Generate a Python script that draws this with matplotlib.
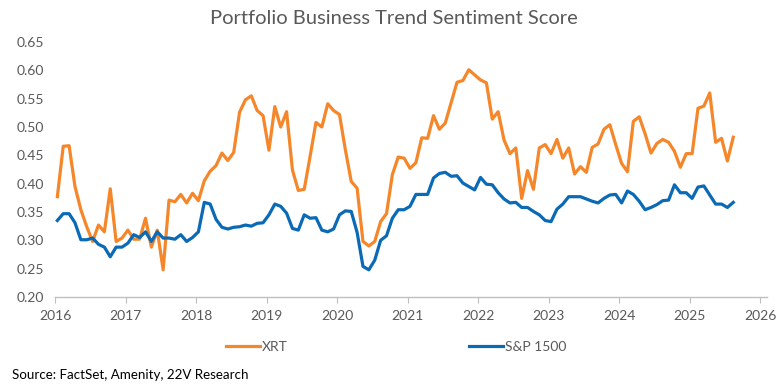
#!/usr/bin/env python3
"""
Portfolio business trend sentiment score: XRT vs S&P 1500, monthly.
"""

import matplotlib
matplotlib.use('Agg')
import matplotlib.pyplot as plt
import numpy as np

# monthly values, Jan 2016 .. Aug 2025
start_year = 2016
xrt = [0.377, 0.466, 0.467, 0.395, 0.354, 0.324, 0.298, 0.327, 0.315, 0.391, 0.298, 0.304,
       0.318, 0.302, 0.302, 0.339, 0.288, 0.318, 0.248, 0.371, 0.368, 0.381, 0.366, 0.383,
       0.370, 0.405, 0.422, 0.432, 0.454, 0.441, 0.455, 0.526, 0.548, 0.555, 0.529, 0.520,
       0.459, 0.536, 0.500, 0.527, 0.424, 0.388, 0.390, 0.448, 0.508, 0.500, 0.541, 0.529,
       0.522, 0.460, 0.404, 0.392, 0.298, 0.290, 0.298, 0.333, 0.347, 0.416, 0.447, 0.445,
       0.427, 0.437, 0.481, 0.480, 0.520, 0.496, 0.507, 0.543, 0.579, 0.582, 0.601, 0.592,
       0.583, 0.578, 0.514, 0.527, 0.477, 0.453, 0.463, 0.374, 0.423, 0.390, 0.463, 0.469,
       0.453, 0.478, 0.445, 0.463, 0.417, 0.430, 0.420, 0.464, 0.470, 0.496, 0.504, 0.469,
       0.436, 0.421, 0.510, 0.518, 0.488, 0.454, 0.471, 0.478, 0.473, 0.457, 0.429, 0.453,
       0.453, 0.533, 0.537, 0.560, 0.473, 0.480, 0.440, 0.482]
sp1500 = [0.335, 0.347, 0.347, 0.331, 0.301, 0.301, 0.304, 0.293, 0.288, 0.271, 0.288, 0.288,
          0.295, 0.310, 0.305, 0.315, 0.298, 0.315, 0.304, 0.304, 0.302, 0.310, 0.298, 0.305,
          0.315, 0.367, 0.364, 0.337, 0.323, 0.320, 0.323, 0.324, 0.327, 0.325, 0.330, 0.331,
          0.345, 0.364, 0.360, 0.348, 0.321, 0.318, 0.345, 0.339, 0.340, 0.318, 0.315, 0.320,
          0.345, 0.352, 0.351, 0.314, 0.254, 0.248, 0.265, 0.300, 0.308, 0.339, 0.354, 0.354,
          0.360, 0.381, 0.381, 0.381, 0.410, 0.418, 0.420, 0.413, 0.414, 0.401, 0.395, 0.389,
          0.411, 0.399, 0.398, 0.384, 0.373, 0.366, 0.367, 0.358, 0.358, 0.351, 0.345, 0.335,
          0.333, 0.355, 0.364, 0.377, 0.377, 0.377, 0.373, 0.369, 0.366, 0.374, 0.380, 0.381,
          0.366, 0.387, 0.381, 0.369, 0.354, 0.358, 0.363, 0.370, 0.371, 0.398, 0.384, 0.384,
          0.374, 0.394, 0.396, 0.380, 0.364, 0.364, 0.358, 0.367]
year_ticks = list(range(2016, 2027))
y_ticks = [0.20, 0.25, 0.30, 0.35, 0.40, 0.45, 0.50, 0.55, 0.60, 0.65]

title = 'Portfolio Business Trend Sentiment Score'
source = 'Source: FactSet, Amenity, 22V Research'

ORANGE = '#F5872A'
BLUE = '#0A6AB5'
GREY = '#595959'

plt.rcParams['font.family'] = ['Lato', 'DejaVu Sans']

# fractional-year positions, roughly mid-month
months = np.arange(len(xrt))
x = start_year + (months + 0.4) / 12.0

fig = plt.figure(figsize=(7.84, 3.90), dpi=100, facecolor='white')
ax = fig.add_axes([55 / 784, 1 - 297 / 390, 712 / 784, 255 / 390])

ax.plot(x, xrt, color=ORANGE, linewidth=2.3, label='XRT', solid_joinstyle='round')
ax.plot(x, sp1500, color=BLUE, linewidth=2.3, label='S&P 1500', solid_joinstyle='round')

ax.set_xlim(2016, 2026.095)
ax.set_ylim(0.20, 0.65)
ax.set_xticks(year_ticks)
ax.set_xticklabels([str(y) for y in year_ticks])
ax.set_yticks(y_ticks)
ax.set_yticklabels([f'{v:.2f}' for v in y_ticks])

# Excel-like axes: only a grey baseline with small outward ticks
for side in ['top', 'right', 'left']:
    ax.spines[side].set_visible(False)
ax.spines['bottom'].set_color('#BFBFBF')
ax.spines['bottom'].set_linewidth(1.0)
ax.tick_params(axis='x', colors='#BFBFBF', labelcolor=GREY, labelsize=10,
               length=4, direction='out', pad=5)
ax.tick_params(axis='y', length=0, labelcolor=GREY, labelsize=10, pad=8)

fig.text(394 / 784, 1 - 18 / 390, title, ha='center', va='center',
         fontsize=14.5, color=GREY)

fig.legend(loc='center', bbox_to_anchor=(396 / 784, 1 - 347 / 390), ncol=2,
           frameon=False, fontsize=10, handlelength=2.45, handletextpad=0.15,
           columnspacing=13.0, labelcolor=GREY)

fig.text(12 / 784, 1 - 375 / 390, source, ha='left', va='center',
         fontsize=9.6, color='black')

fig.savefig('out.png', dpi=100, facecolor='white')
